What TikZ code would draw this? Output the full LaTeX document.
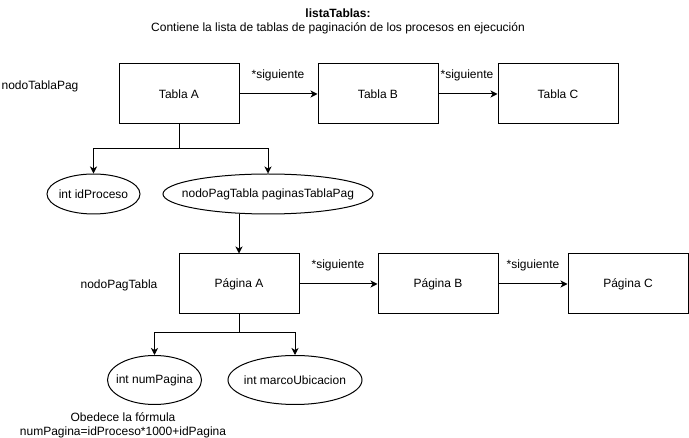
\documentclass[tikz,border=0pt]{standalone}
\usepackage{fontspec}
\setmainfont{Liberation Sans}
\usetikzlibrary{arrows.meta,shapes.geometric}
\newcommand{\ovaltext}[1]{\makebox[0pt]{#1}}

\begin{document}
\begin{tikzpicture}[x=1pt,y=-1pt,->,>={Stealth[length=7pt,width=7pt,inset=2pt]},line width=1pt,font=\fontsize{12}{14}\selectfont,boxnode/.style={rectangle,draw,minimum width=120pt,minimum height=60pt,inner sep=0pt},ovalnode/.style={ellipse,draw,inner sep=0pt},textnode/.style={rectangle,inner sep=0pt,align=center}]
		\useasboundingbox (0,0) rectangle (689,438);
		\node [textnode] (tit) at (338,21) {\textbf{listaTablas:}\\Contiene la lista de tablas de paginación de los procesos en ejecución};
		\node [textnode] (lt) at (40,86) {nodoTablaPag};
		\node [boxnode] (tA) at (179,94) {Tabla A};
		\node [boxnode] (tB) at (378,94) {Tabla B};
		\node [boxnode] (tC) at (558,94) {Tabla C};
		\node [textnode] (s1) at (278,75) {*siguiente};
		\node [textnode] (s2) at (467,75) {*siguiente};
		\node [ovalnode, minimum width=93pt, minimum height=40pt] (idp) at (93.5,194) {\ovaltext{int idProceso}};
		\node [ovalnode, minimum width=210pt, minimum height=40pt] (ptp) at (268,194) {\ovaltext{nodoPagTabla paginasTablaPag}};
		\node [textnode] (lp) at (119,285) {nodoPagTabla};
		\node [boxnode] (pA) at (239,284) {Página A};
		\node [boxnode] (pB) at (438,284) {Página B};
		\node [boxnode] (pC) at (628,284) {Página C};
		\node [textnode] (s3) at (338,265) {*siguiente};
		\node [textnode] (s4) at (533,265) {*siguiente};
		\node [ovalnode, minimum width=94pt, minimum height=49pt] (nump) at (154.5,380) {\ovaltext{int numPagina}};
		\node [ovalnode, minimum width=134pt, minimum height=49pt] (marco) at (295,380) {\ovaltext{int marcoUbicacion}};
		\node [textnode] (form) at (123,425) {Obedece la fórmula\\numPagina=idProceso*1000+idPagina};
		\coordinate (b1) at (179,149);
		\coordinate (b2) at (239,333);
		\draw (tA) -- (tB);
		\draw (tB) -- (tC);
		\draw (tA.south) -- (b1) -| (idp.north);
		\draw (tA.south) -- (b1) -| (ptp.north);
		\draw (ptp.south -| pA.north) -- (pA.north);
		\draw (pA) -- (pB);
		\draw (pB) -- (pC);
		\draw (pA.south) -- (b2) -| (nump.north);
		\draw (pA.south) -- (b2) -| (marco.north);
	\end{tikzpicture}
\end{document}
